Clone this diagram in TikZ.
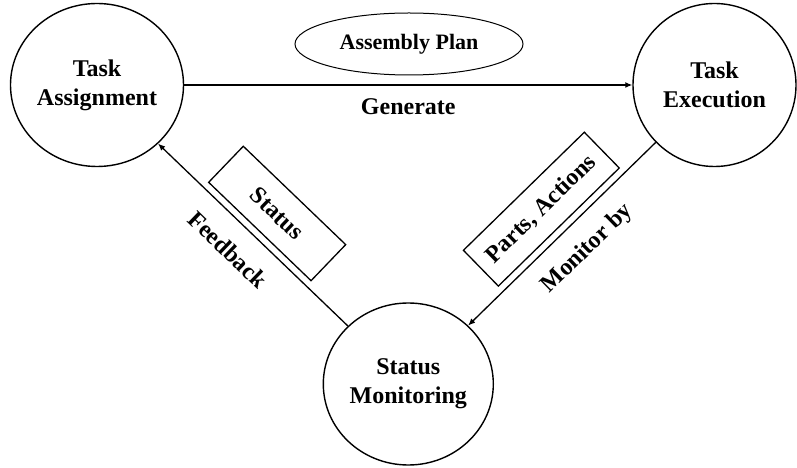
\documentclass[tikz,border=0pt]{standalone}
\usepackage{fontspec}
\setmainfont{Liberation Serif}
\usetikzlibrary{shapes.geometric, arrows.meta, positioning}

\begin{document}
\begin{tikzpicture}[
    x=1pt, y=1pt,
    stage/.style={ellipse, draw=black, line width=1.4pt, inner sep=0pt, align=center, font=\fontsize{24}{29}\selectfont\bfseries},
    plan/.style={ellipse, draw=black, line width=1pt, minimum width=228pt, minimum height=62pt, font=\fontsize{22}{26}\selectfont\bfseries},
    tag/.style={rectangle, draw=black, line width=1.3pt, minimum height=50pt, inner sep=2pt, font=\fontsize{24}{29}\selectfont\bfseries},
    label/.style={inner sep=2pt, font=\fontsize{24}{29}\selectfont\bfseries},
    arrow/.style={line width=1.3pt, -{Latex[length=7pt,width=6pt]}}
]
    \useasboundingbox (0,0) rectangle (797,468);

    \node (assign) [stage, minimum width=173pt, minimum height=163pt] at (97,383) {Task\\Assignment};
    \node (exec) [stage, minimum width=163pt, minimum height=163pt] at (714.5,383) {Task\\Execution};
    \node (mon) [stage, minimum width=170pt, minimum height=162pt] at (408.3,84) {Status\\Monitoring};
    \node (asm) [plan] at (409,424) {Assembly Plan};

    \draw [arrow] (assign) -- node[label, pos=0.5, below=11pt] {Generate} (exec);
    \draw [arrow] (exec) -- node[tag, pos=0.49, sloped, above=6.5pt, minimum width=169pt] {Parts, Actions}
                            node[label, pos=0.47, sloped, below=15pt] {Monitor by} (mon);
    \draw [arrow] (mon) -- node[tag, pos=0.49, sloped, above=6.5pt, minimum width=142pt] {Status}
                           node[label, pos=0.53, sloped, below=17pt] {Feedback} (assign);
\end{tikzpicture}
\end{document}
